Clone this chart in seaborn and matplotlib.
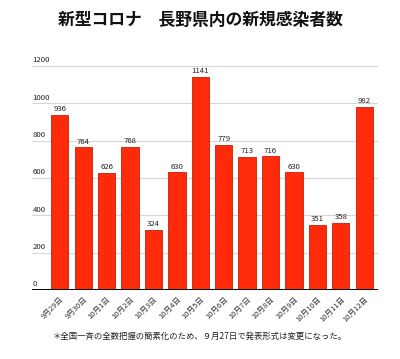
import numpy as np
import pandas as pd
import matplotlib
matplotlib.use("Agg")
import matplotlib.pyplot as plt
import seaborn as sns

dates = ["9月29日", "9月30日", "10月1日", "10月2日", "10月3日", "10月4日", "10月5日",
         "10月6日", "10月7日", "10月8日", "10月9日", "10月10日", "10月11日", "10月12日"]
cases = [936, 764, 626, 768, 324, 630, 1141, 779, 713, 716, 630, 351, 358, 982]
yticks = [0, 200, 400, 600, 800, 1000, 1200]

df = pd.DataFrame({"date": dates, "cases": cases})

sns.set_style("white")
plt.rcParams["font.family"] = ["Noto Sans CJK JP", "DejaVu Sans"]

fig = plt.figure(figsize=(4.0, 3.59), dpi=100)
ax = fig.add_axes([0.081, 0.192, 0.863, 0.624])

sns.barplot(data=df, x="date", y="cases", color="#ff2a0a", saturation=1,
            width=0.74, edgecolor="#c81e08", linewidth=0.6, ax=ax, zorder=3)

ax.set_ylim(0, 1200)
ax.set_xlim(-1.17, len(dates) - 1 + 0.57)
for v in yticks[1:]:
    ax.axhline(v, color="#d6d6d6", lw=0.8, zorder=1)
ax.axhline(0, color="black", lw=1.4, zorder=4)
ax.set_yticks([])
for v in yticks:
    ax.text(0.0, v + 9, str(v), transform=ax.get_yaxis_transform(),
            ha="left", va="bottom", fontsize=5.6, color="#222222")

# value labels above bars
for i, c in enumerate(cases):
    ax.text(i, c + 10, str(c), ha="center", va="bottom", fontsize=5.6,
            color="#222222", zorder=5)

ax.set_xticks(range(len(dates)))
ax.set_xticklabels(dates, rotation=45, ha="right", rotation_mode="anchor",
                   fontsize=5.5, color="#333333")
ax.tick_params(axis="x", length=0, pad=4)
ax.set_xlabel("")
ax.set_ylabel("")
for s in ax.spines.values():
    s.set_visible(False)

fig.text(0.5, 0.945, "新型コロナ　長野県内の新規感染者数", ha="center", va="center",
         fontsize=12.1, fontweight="bold", color="#111111")
fig.text(0.5, 0.063, "＊全国一斉の全数把握の簡素化のため、９月27日で発表形式は変更になった。",
         ha="center", va="center", fontsize=6.0, color="#222222")

fig.savefig("out.png", dpi=100)
